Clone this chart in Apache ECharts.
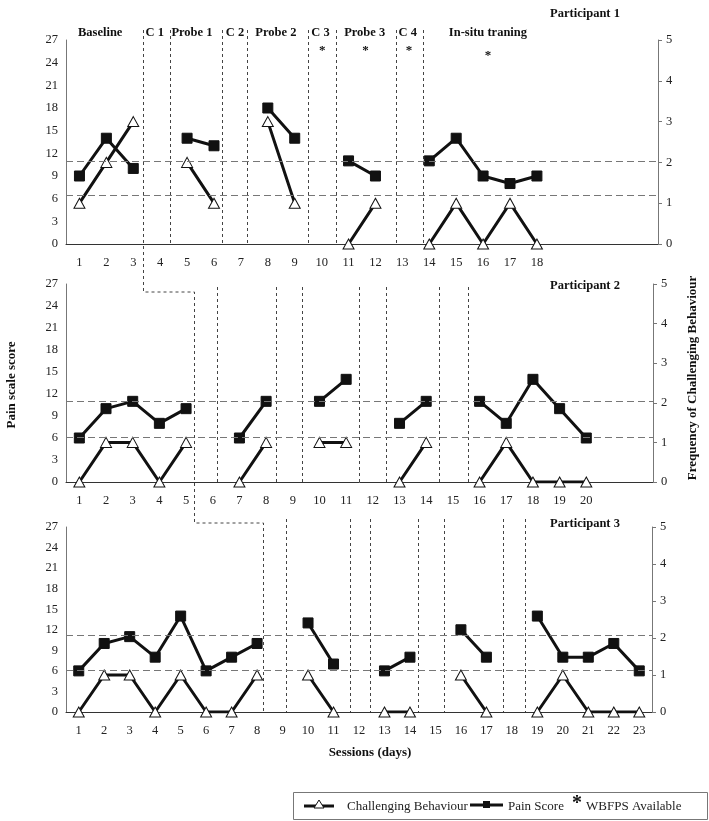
<!DOCTYPE html>
<html><head><meta charset="utf-8">
<script src="https://cdn.jsdelivr.net/npm/echarts@6/dist/echarts.min.js"></script>
<style>html,body{margin:0;padding:0;background:#fff}#c{width:709px;height:821px}</style>
</head><body><div id="c"></div>
<script>
// ---- data ----
const ticksP1 = [1,2,3,4,5,6,7,8,9,10,11,12,13,14,15,16,17,18];
const ticksP2 = [1,2,3,4,5,6,7,8,9,10,11,12,13,14,15,16,17,18,19,20];
const ticksP3 = [1,2,3,4,5,6,7,8,9,10,11,12,13,14,15,16,17,18,19,20,21,22,23];
const painP1 = [9,14,10,null,14,13,null,18,14,null,11,9,null,11,14,9,8,9];
const cbP1   = [1,2,3,null,2,1,null,3,1,null,0,1,null,0,1,0,1,0];
const painP2 = [6,10,11,8,10,null,6,11,null,11,14,null,8,11,null,11,8,14,10,6];
const cbP2   = [0,1,1,0,1,null,0,1,null,1,1,null,0,1,null,0,1,0,0,0];
const painP3 = [6,10,11,8,14,6,8,10,null,13,7,null,6,8,null,12,8,null,14,8,8,10,6];
const cbP3   = [0,1,1,0,1,0,0,1,null,1,0,null,0,0,null,1,0,null,0,1,0,0,0];
const refLinesP1 = [11, 6.5];
const refLinesP2 = [11.05, 6.05];
const refLinesP3 = [11.2, 6.05];
const phaseP1 = [3.37,4.37,6.3,7.23,9.5,10.55,12.75,13.75];
const phaseP2 = [5.3,6.15,8.37,9.33,11.47,12.5,14.47,15.57];
const phaseP3 = [8.25,9.15,11.65,12.45,14.32,15.32,17.65,18.5];
const phaseNames = ['Baseline','C 1','Probe 1','C 2','Probe 2','C 3','Probe 3','C 4','In-situ traning'];
const phaseNamePos = [1.77,3.8,5.18,6.78,8.3,9.96,11.6,13.2,16.18];
const starPos = [10.02,11.63,13.25,16.18];
const painMax = 27, painStep = 3, cbMax = 5, cbStep = 1;

const FONT = '"Liberation Serif", "Times New Roman", serif';
const chart = echarts.init(document.getElementById('c'), null, {renderer:'canvas'});

const grids = [
  {left:66, right:51, top:40, height:204},
  {left:66, right:56, top:284, height:198},
  {left:66, right:57, top:527, height:185}
];
const xMax = [22.5, 22.5, 23.5];
const ticks = [ticksP1, ticksP2, ticksP3];
const pains = [painP1, painP2, painP3];
const cbs = [cbP1, cbP2, cbP3];
const refs = [refLinesP1, refLinesP2, refLinesP3];

const xAxes = [], yAxes = [], series = [];
grids.forEach((g, i) => {
  xAxes.push({
    type:'value', gridIndex:i, min:0.5, max:xMax[i],
    axisLine:{show:true, onZero:false, lineStyle:{color:'#333', width:1}},
    axisTick:{show:false}, splitLine:{show:false},
    axisLabel:{customValues:ticks[i], color:'#222', fontFamily:FONT, fontSize:12.5, margin:12}
  });
  yAxes.push({
    type:'value', gridIndex:i, min:0, max:painMax, interval:painStep, position:'left',
    axisLine:{show:true, lineStyle:{color:'#777'}}, axisTick:{show:false}, splitLine:{show:false},
    axisLabel:{color:'#222', fontFamily:FONT, fontSize:12.5, margin:8}
  });
  yAxes.push({
    type:'value', gridIndex:i, min:0, max:cbMax, interval:cbStep, position:'right',
    axisLine:{show:true, lineStyle:{color:'#777'}}, axisTick:{show:true, length:4, lineStyle:{color:'#777'}},
    splitLine:{show:false},
    axisLabel:{color:'#222', fontFamily:FONT, fontSize:12.5, margin:8}
  });
  series.push({
    type:'line', xAxisIndex:i, yAxisIndex:2*i+1, z:3,
    data: cbs[i].map((v,k)=>[ticks[i][k], v===null?'-':v]),
    symbol:'triangle', symbolSize:[11,10], connectNulls:false,
    itemStyle:{color:'#fff', borderColor:'#111', borderWidth:1},
    lineStyle:{color:'#111', width:3}
  });
  series.push({
    type:'line', xAxisIndex:i, yAxisIndex:2*i, z:4,
    data: pains[i].map((v,k)=>[ticks[i][k], v===null?'-':v]),
    symbol:'rect', symbolSize:10, connectNulls:false,
    itemStyle:{color:'#111', borderColor:'#111'},
    lineStyle:{color:'#111', width:3},
    markLine:{silent:true, symbol:'none', label:{show:false},
      lineStyle:{color:'#777', type:[7,4], width:1},
      data: refs[i].map(v=>({yAxis:v}))}
  });
});

chart.setOption({
  animation:false,
  grid:grids, xAxis:xAxes, yAxis:yAxes, series:series
});

// graphics: phase lines, titles, legend
const px = (i, x) => chart.convertToPixel({xAxisIndex:i}, x);
const yTop = [30, 287, 519];
const yBot = [grids[0].top+grids[0].height, grids[1].top+grids[1].height, grids[2].top+grids[2].height];
const stepY = [292, 523];
const dash = {stroke:'#444', lineWidth:1, lineDash:[3,3]};
const gfx = [];
const phases = [phaseP1, phaseP2, phaseP3];
phases.forEach((arr, i) => {
  arr.forEach((v, k) => {
    if (k === 0) return;
    const x = Math.round(px(i, v)) + 0.5;
    gfx.push({type:'line', shape:{x1:x, y1:yTop[i], x2:x, y2:yBot[i]}, style:dash, silent:true});
  });
});
const s0 = Math.round(px(0, phaseP1[0]))+0.5, s1 = Math.round(px(1, phaseP2[0]))+0.5, s2 = Math.round(px(2, phaseP3[0]))+0.5;
gfx.push({type:'polyline', shape:{points:[[s0,yTop[0]],[s0,stepY[0]],[s1,stepY[0]],[s1,stepY[1]],[s2,stepY[1]],[s2,yBot[2]]]}, style:Object.assign({fill:null}, dash), silent:true});

phaseNames.forEach((n, k) => {
  gfx.push({type:'text', x:px(0, phaseNamePos[k]), y:33, style:{text:n, align:'center', verticalAlign:'middle', font:'bold 12.5px '+FONT, fill:'#111'}});
});
starPos.forEach((p, k) => {
  gfx.push({type:'text', x:px(0, p), y: k===3?56:51, style:{text:'*', align:'center', verticalAlign:'middle', font:'bold 13px '+FONT, fill:'#111'}});
});
[['Participant 1',14],['Participant 2',286],['Participant 3',524]].forEach(([t,y])=>{
  gfx.push({type:'text', x:585, y:y, style:{text:t, align:'center', verticalAlign:'middle', font:'bold 12.5px '+FONT, fill:'#111'}});
});
gfx.push({type:'text', x:12, y:385, rotation:Math.PI/2, style:{text:'Pain scale score', align:'center', verticalAlign:'middle', font:'bold 13px '+FONT, fill:'#111'}});
gfx.push({type:'text', x:693, y:378, rotation:Math.PI/2, style:{text:'Frequency of Challenging Behaviour', align:'center', verticalAlign:'middle', font:'bold 13px '+FONT, fill:'#111'}});
gfx.push({type:'text', x:370, y:753, style:{text:'Sessions (days)', align:'center', verticalAlign:'middle', font:'bold 13px '+FONT, fill:'#111'}});

// legend
const ly = 806;
gfx.push({type:'rect', shape:{x:293.5, y:792.5, width:414, height:27}, style:{fill:'#fff', stroke:'#777', lineWidth:1}});
gfx.push({type:'line', shape:{x1:304, y1:ly, x2:334, y2:ly}, style:{stroke:'#111', lineWidth:3}});
gfx.push({type:'polygon', shape:{points:[[319,ly-6],[324,ly+2],[314,ly+2]]}, style:{fill:'#fff', stroke:'#111', lineWidth:1}});
gfx.push({type:'text', x:347, y:ly+1, style:{text:'Challenging Behaviour', verticalAlign:'middle', font:'13px '+FONT, fill:'#222'}});
gfx.push({type:'line', shape:{x1:470, y1:ly-1, x2:503, y2:ly-1}, style:{stroke:'#111', lineWidth:3}});
gfx.push({type:'rect', shape:{x:483, y:ly-5, width:7, height:7}, style:{fill:'#111'}});
gfx.push({type:'text', x:508, y:ly+1, style:{text:'Pain Score', verticalAlign:'middle', font:'13px '+FONT, fill:'#222'}});
gfx.push({type:'text', x:577, y:ly-2, style:{text:'*', align:'center', verticalAlign:'middle', font:'bold 20px '+FONT, fill:'#111'}});
gfx.push({type:'text', x:586, y:ly+1, style:{text:'WBFPS Available', verticalAlign:'middle', font:'13px '+FONT, fill:'#222'}});

chart.setOption({graphic:gfx});
</script></body></html>
